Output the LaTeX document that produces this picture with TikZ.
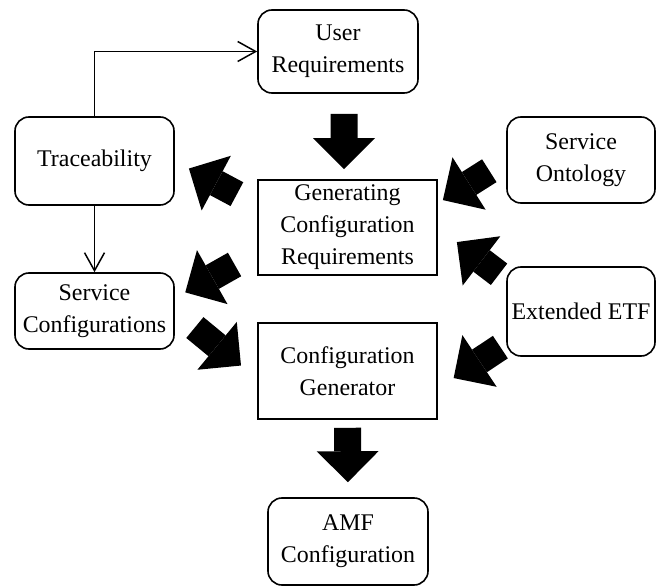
\documentclass[tikz,border=0pt]{standalone}
\usepackage{fontspec}
\setmainfont{Liberation Serif}
\usepackage{tikz}
\usetikzlibrary{arrows.meta}
\tikzset{
    rounded-box/.style = {draw, line width=0.8bp, rectangle, rounded corners=7bp, align=center, inner sep=2bp, font=\fontsize{12}{16}\selectfont},
    square-box/.style = {draw, line width=0.8bp, rectangle, align=center, inner sep=2bp, font=\fontsize{12}{16}\selectfont},
    fat-arrow/.style = {line width=13.5bp, -{Triangle[width=31bp,length=15.5bp,line width=0pt]}},
    thin-arrow/.style = {line width=0.75bp, -{Straight Barb[length=9bp,width=10bp]}},
}
\begin{document}
\begin{tikzpicture}[x=0.5bp,y=-0.5bp]
\useasboundingbox (0,0) rectangle (657,586);

\node [rounded-box, minimum width=80bp, minimum height=41.5bp] (userreq) at (338,51.5) {User\\Requirements};
\node [rounded-box, minimum width=79.5bp, minimum height=44bp] (trace) at (94.5,161) {Traceability};
\node [square-box, minimum width=89.5bp, minimum height=47.5bp] (genreq) at (347.5,227.5) {Generating\\Configuration\\Requirements};
\node [rounded-box, minimum width=74bp, minimum height=43bp] (ontology) at (581,160) {Service\\Ontology};
\node [rounded-box, minimum width=79.5bp, minimum height=38bp] (servconf) at (94.5,311) {Service\\Configurations};
\node [rounded-box, minimum width=74bp, minimum height=44.5bp] (etf) at (581,311.5) {Extended ETF};
\node [square-box, minimum width=89.5bp, minimum height=48bp] (gen) at (347.5,371) {Configuration\\Generator};
\node [rounded-box, minimum width=80bp, minimum height=43.5bp] (amf) at (348,541.5) {AMF\\Configuration};

% feedback lines
\draw [thin-arrow] (trace.north) |- (userreq.west);
\draw [thin-arrow] (trace.south) -- (servconf.north);

% block arrows
\draw [fat-arrow, shorten <=10bp, shorten >=5bp] ([xshift=3bp]userreq.south) -- ([xshift=-1.75bp]genreq.north);
\draw [fat-arrow, shorten <=11.5bp, shorten >=8bp] (genreq.166) -- (trace.east);
\draw [fat-arrow, shorten <=13bp, shorten >=6bp] (genreq.195) -- (servconf.9);
\draw [fat-arrow, shorten <=13bp, shorten >=10.5bp] (servconf.east) -- (gen.185);
\draw [fat-arrow, shorten <=10bp, shorten >=3bp] (ontology.west) -- (genreq.15);
\draw [fat-arrow, shorten <=4.5bp, shorten >=12bp] (etf.157) -- (genreq.east);
\draw [fat-arrow, shorten <=3.5bp, shorten >=9.5bp] (etf.203) -- (gen.-11);
\draw [fat-arrow, shorten <=4bp, shorten >=7.5bp] (gen.south) -- (amf.north);
\end{tikzpicture}
\end{document}
